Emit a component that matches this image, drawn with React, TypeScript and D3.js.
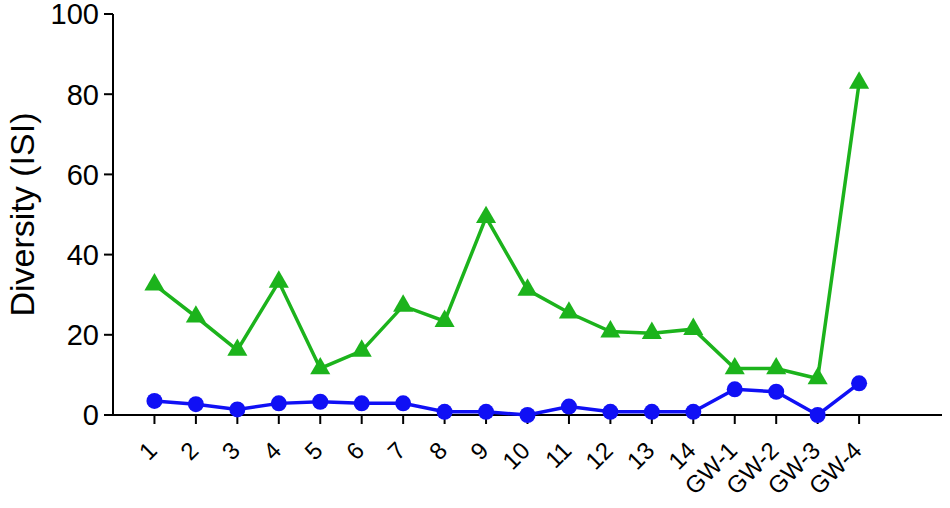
import React from "react";
import * as d3 from "d3";

const categories = ["1","2","3","4","5","6","7","8","9","10","11","12","13","14","GW-1","GW-2","GW-3","GW-4"];
const greenValues = [32.5,24.5,16.2,33.2,11.6,16.0,27.2,23.4,49.3,31.2,25.5,20.8,20.4,21.4,11.6,11.6,9.1,82.8];
const blueValues = [3.5,2.7,1.4,2.9,3.3,2.9,2.9,0.8,0.8,0,2.1,0.8,0.8,0.8,6.4,5.8,0,7.9];
const yTicks = [0,20,40,60,80,100];
const yTitle = "Diversity (ISI)";

const W = 950, H = 508;
const left = 113, right = 942, top = 14, bottom = 415;
const GREEN = "#1cb31c";
const BLUE = "#1010f5";
const FONT = "Liberation Sans, Arial, sans-serif";

export default function App() {
  const x = d3.scaleLinear().domain([0, categories.length + 2]).range([left, right]);
  const y = d3.scaleLinear().domain([0, 100]).range([bottom, top]);
  const line = d3.line<number>().x((_, i) => x(i + 1)).y(d => y(d));
  const tri = d3.symbol().type(d3.symbolTriangle).size(175)();
  return (
    <svg width={W} height={H} style={{ position: "absolute", left: 0, top: 0, background: "#fff" }}>
      {/* y axis */}
      <line x1={left} x2={left} y1={top} y2={bottom} stroke="#000" strokeWidth={2} />
      {yTicks.map(t => (
        <g key={t}>
          <line x1={left - 9} x2={left} y1={y(t)} y2={y(t)} stroke="#000" strokeWidth={2} />
          <text x={left - 14} y={y(t)} dy="0.36em" textAnchor="end" fontFamily={FONT} fontSize={29}>{t}</text>
        </g>
      ))}
      <text transform={`translate(34,${(top + bottom) / 2}) rotate(-90)`} textAnchor="middle" fontFamily={FONT} fontSize={34}>{yTitle}</text>
      {/* x axis */}
      <line x1={left} x2={right} y1={bottom} y2={bottom} stroke="#000" strokeWidth={2} />
      {categories.map((c, i) => (
        <g key={c}>
          <line x1={x(i + 1)} x2={x(i + 1)} y1={bottom} y2={bottom + 9} stroke="#000" strokeWidth={2} />
          <text transform={`translate(${x(i + 1) + 4},${bottom + 37}) rotate(-45)`} textAnchor="end" fontFamily={FONT} fontSize={24}>{c}</text>
        </g>
      ))}
      {/* green series */}
      <path d={line(greenValues) || ""} fill="none" stroke={GREEN} strokeWidth={3.5} />
      {greenValues.map((v, i) => (
        <path key={i} d={tri || ""} transform={`translate(${x(i + 1)},${y(v)})`} fill={GREEN} />
      ))}
      {/* blue series */}
      <path d={line(blueValues) || ""} fill="none" stroke={BLUE} strokeWidth={3.5} />
      {blueValues.map((v, i) => (
        <circle key={i} cx={x(i + 1)} cy={y(v)} r={8} fill={BLUE} />
      ))}
    </svg>
  );
}
